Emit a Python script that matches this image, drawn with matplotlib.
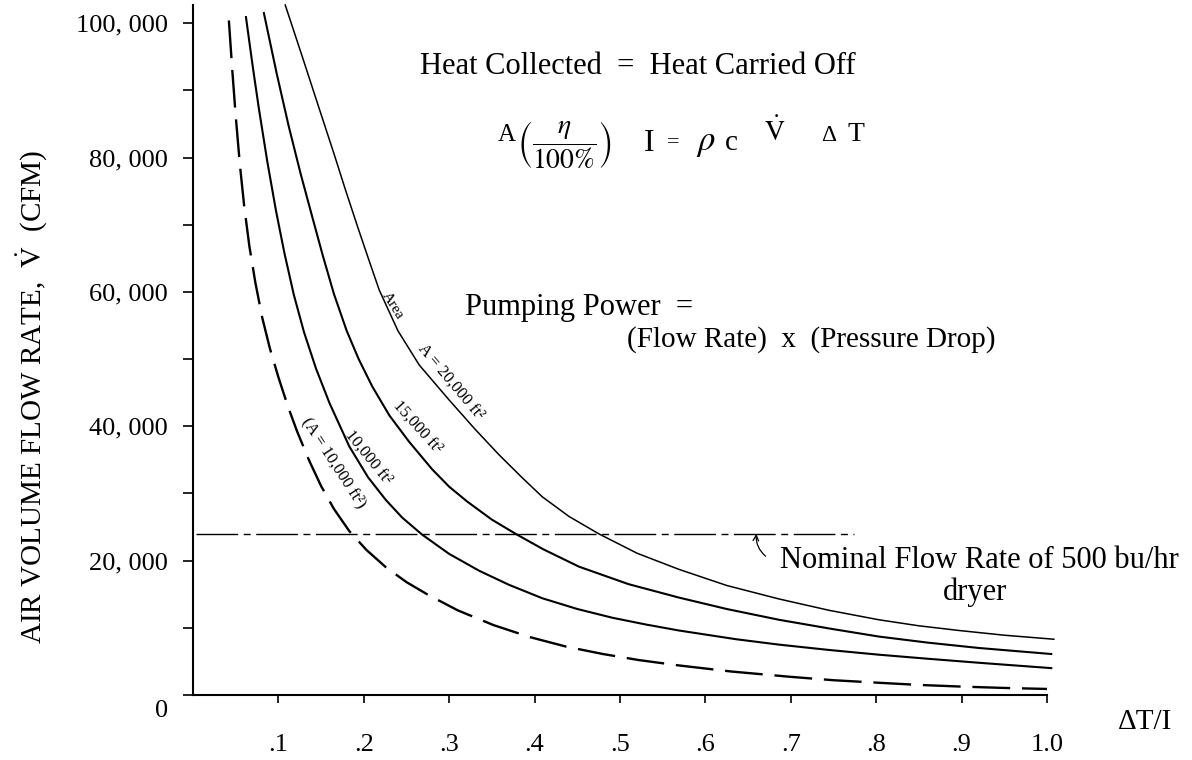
import matplotlib
matplotlib.use("Agg")
import matplotlib.pyplot as plt
from matplotlib.transforms import ScaledTranslation

# values (x = delta T / I, y = CFM)
dti_20k = [0.108, 0.128, 0.148, 0.165, 0.179, 0.193, 0.205, 0.218, 0.240, 0.265, 0.300, 0.330,
           0.358, 0.385, 0.409, 0.440, 0.475, 0.520, 0.569, 0.625, 0.686, 0.745, 0.803, 0.850,
           0.897, 0.950, 1.008]
cfm_20k = [102700, 95000, 87200, 80600, 75000, 69600, 65100, 60300, 54200, 49100, 43900, 39600,
           35800, 32400, 29500, 26600, 24000, 21100, 18700, 16300, 14300, 12600, 11200, 10300,
           9600, 8900, 8300]

dti_15k = [0.083, 0.098, 0.112, 0.126, 0.140, 0.152, 0.165, 0.180, 0.194, 0.210, 0.230, 0.253,
           0.280, 0.300, 0.321, 0.350, 0.379, 0.410, 0.452, 0.510, 0.569, 0.625, 0.686, 0.745,
           0.803, 0.860, 0.920, 1.005]
cfm_15k = [101500, 92500, 84700, 77600, 71000, 65400, 59700, 54200, 50000, 45900, 41600, 37700,
           33600, 31000, 28800, 26100, 23900, 21700, 19100, 16500, 14500, 12800, 11200, 9900,
           8700, 7800, 7000, 6100]

dti_10k = [0.062, 0.070, 0.077, 0.087, 0.097, 0.107, 0.118, 0.130, 0.144, 0.160, 0.183, 0.205,
           0.226, 0.245, 0.268, 0.300, 0.335, 0.370, 0.409, 0.450, 0.491, 0.530, 0.569, 0.636,
           0.686, 0.745, 0.803, 0.860, 0.920, 1.005]
cfm_10k = [100900, 93500, 87400, 79400, 72200, 65800, 59600, 54000, 48600, 43400, 37000, 32400,
           29000, 26400, 23900, 21000, 18500, 16400, 14400, 12800, 11500, 10500, 9600, 8300,
           7500, 6700, 6000, 5400, 4800, 4000]

dti_dash = [0.042, 0.046, 0.050, 0.055, 0.060, 0.066, 0.073, 0.081, 0.090, 0.100, 0.111, 0.122,
            0.136, 0.150, 0.165, 0.183, 0.203, 0.226, 0.250, 0.274, 0.310, 0.352, 0.395, 0.437,
            0.480, 0.522, 0.569, 0.630, 0.700, 0.750, 0.806, 0.850, 0.900, 0.950, 1.000]
cfm_dash = [100400, 93000, 86200, 78800, 72700, 66800, 61400, 56200, 51600, 47300, 43000, 39200,
            34900, 31100, 27700, 24400, 21600, 19000, 16800, 15000, 12600, 10400, 8600, 7200,
            6100, 5200, 4400, 3500, 2700, 2200, 1800, 1500, 1250, 1050, 900]

nominal_dti = [0.004, 0.774]
nominal_cfm = 24000

y_major = [0, 20000, 40000, 60000, 80000, 100000]
y_major_labels = ["0", "20, 000", "40, 000", "60, 000", "80, 000", "100, 000"]
y_minor = [10000, 30000, 50000, 70000, 90000]
x_major = [0.1, 0.2, 0.3, 0.4, 0.5, 0.6, 0.7, 0.8, 0.9, 1.0]
x_major_labels = [".1", ".2", ".3", ".4", ".5", ".6", ".7", ".8", ".9", "1.0"]

plt.rcParams["font.family"] = ["Liberation Serif", "DejaVu Serif"]
plt.rcParams["mathtext.fontset"] = "stix"

W, H = 1192, 760
fig = plt.figure(figsize=(W / 100, H / 100), dpi=100)
ax = fig.add_axes([193 / W, 65 / H, 854 / W, 690 / H])


def ftext(px, py, s, **kw):
    # place text by pixel position on the page
    return fig.text(px / W, 1 - py / H, s, **kw)


ax.plot(dti_20k, cfm_20k, color="black", lw=1.1, clip_on=False)
ax.plot(dti_15k, cfm_15k, color="black", lw=1.5, clip_on=False)
ax.plot(dti_10k, cfm_10k, color="black", lw=1.5, clip_on=False)
ax.plot(dti_dash, cfm_dash, color="black", lw=1.7, linestyle=(0, (16, 5)), clip_on=False)
ax.plot(nominal_dti, [nominal_cfm] * 2, color="black", lw=1.0, linestyle=(0, (30, 4, 5, 4)))

ax.set_xlim(0, 1.0)
ax.set_ylim(0, 102700)
for side in ["top", "right"]:
    ax.spines[side].set_visible(False)
for side in ["left", "bottom"]:
    ax.spines[side].set_linewidth(1.5)

ax.set_yticks(y_major)
ax.set_yticklabels(y_major_labels)
ax.set_yticks(y_minor, minor=True)
ax.set_xticks(x_major)
ax.set_xticklabels(x_major_labels)
ax.tick_params(axis="y", which="both", direction="out", length=7, width=1.2, labelsize=19, pad=11)
ax.tick_params(axis="x", which="both", direction="out", length=6, width=1.2, labelsize=19, pad=22)

# the "0" label sits a little low on the scan
zero_lab = ax.get_yticklabels()[0]
zero_lab.set_transform(zero_lab.get_transform() + ScaledTranslation(0, -10 / 72, fig.dpi_scale_trans))

ftext(32, 397, "AIR VOLUME FLOW RATE,  $\\dot{\\mathrm{V}}$  (CFM)", rotation=90,
      ha="center", va="center", fontsize=21)
ftext(1145, 722, "ΔT/I", ha="center", va="center", fontsize=21)

ftext(420, 67, "Heat Collected  =  Heat Carried Off", ha="left", va="center", fontsize=22)

# hand-written energy balance, piece by piece
ftext(498, 141, "A", ha="left", va="baseline", fontsize=18)
ftext(565, 145, r"$\left(\dfrac{\eta}{100\%}\right)$", ha="center", va="center", fontsize=20)
ftext(649, 151, "I", ha="center", va="baseline", fontsize=23)
ftext(673, 143, "=", ha="center", va="center", fontsize=16)
ftext(706, 150, r"$\rho$", ha="center", va="baseline", fontsize=25)
ftext(731, 150, "c", ha="center", va="baseline", fontsize=21)
ftext(775, 141, r"$\dot{\mathrm{V}}$", ha="center", va="baseline", fontsize=20)
ftext(829, 141, "Δ", ha="center", va="baseline", fontsize=17)
ftext(856, 141, "T", ha="center", va="baseline", fontsize=20)

ftext(465, 308, "Pumping Power  =", ha="left", va="center", fontsize=22)
ftext(627, 340, "(Flow Rate)  x  (Pressure Drop)", ha="left", va="center", fontsize=21)
ftext(780, 560, "Nominal Flow Rate of 500 bu/hr", ha="left", va="center", fontsize=22)
ftext(943, 592, "dryer", ha="left", va="center", fontsize=22)

ax.annotate("", xy=(0.660, 24400), xytext=(0.673, 20400),
            arrowprops=dict(arrowstyle="->", lw=0.9, color="black",
                            connectionstyle="arc3,rad=-0.3"))

# handwritten curve labels
ftext(393, 306, "Area", rotation=-58, ha="center", va="center", fontsize=11)
ftext(451, 382, "A = 20,000 ft²", rotation=-50, ha="center", va="center", fontsize=12)
ftext(417, 427, "15,000 ft²", rotation=-48, ha="center", va="center", fontsize=12)
ftext(368, 457, "10,000 ft²", rotation=-51, ha="center", va="center", fontsize=12)
ftext(334, 463, "(A = 10,000 ft²)", rotation=-57, ha="center", va="center", fontsize=12)

fig.savefig("out.png", dpi=100)
